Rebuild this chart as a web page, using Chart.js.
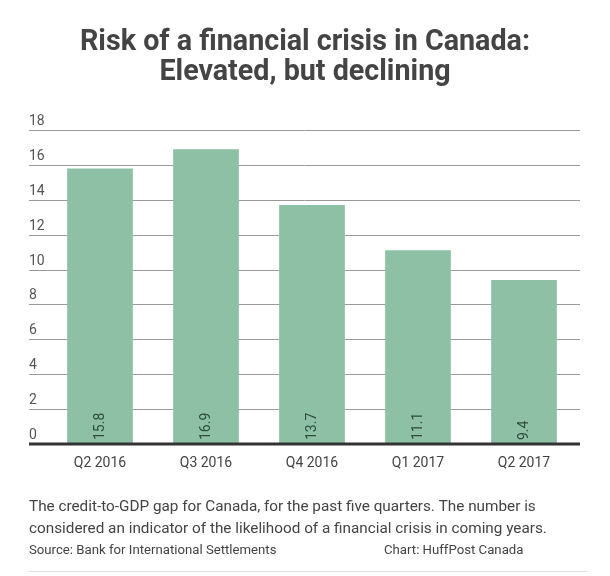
<!DOCTYPE html>
<html>
<head>
<meta charset="utf-8">
<script src="https://cdn.jsdelivr.net/npm/chart.js@4/dist/chart.umd.min.js"></script>
<style>
  html, body { margin: 0; padding: 0; background: #fff; }
  #wrap { width: 610px; height: 576px; }
</style>
</head>
<body>
<div id="wrap"><canvas id="chart"></canvas></div>
<script>
// data
const quarters = ['Q2 2016', 'Q3 2016', 'Q4 2016', 'Q1 2017', 'Q2 2017'];
const gapValues = [15.8, 16.9, 13.7, 11.1, 9.4];
const yTicks = [0, 2, 4, 6, 8, 10, 12, 14, 16, 18];

const titleLines = ['Risk of a financial crisis in Canada:', 'Elevated, but declining'];
const noteLines = [
    'The credit-to-GDP gap for Canada, for the past five quarters. The number is',
    'considered an indicator of the likelihood of a financial crisis in coming years.'
];
const sourceText = 'Source: Bank for International Settlements';
const creditText = 'Chart: HuffPost Canada';

const FONT = 'Roboto, "Noto Sans", sans-serif';

// gridlines + y labels sit above each line, starting left of the bars
const gridPlugin = {
    id: 'gridLabels',
    beforeDatasetsDraw(chart) {
        const ctx = chart.ctx;
        const y = chart.scales.y;
        ctx.save();
        ctx.font = '14px ' + FONT;
        ctx.fillStyle = '#555';
        ctx.textAlign = 'left';
        ctx.textBaseline = 'bottom';
        yTicks.forEach(v => {
            const py = Math.round(y.getPixelForValue(v)) + 0.5;
            if (v > 0) {
                ctx.strokeStyle = '#9a9a9a';
                ctx.lineWidth = 1;
                ctx.beginPath();
                ctx.moveTo(29, py);
                ctx.lineTo(580, py);
                ctx.stroke();
            }
            ctx.fillText(String(v), 29, py - 2);
        });
        ctx.restore();
    },
    afterDatasetsDraw(chart) {
        const ctx = chart.ctx;
        const y = chart.scales.y;
        const base = y.getPixelForValue(0);
        ctx.save();
        // value labels, rotated, at the foot of each bar
        ctx.font = '14px ' + FONT;
        ctx.fillStyle = '#2e4b3c';
        ctx.textAlign = 'left';
        ctx.textBaseline = 'middle';
        chart.getDatasetMeta(0).data.forEach((bar, i) => {
            ctx.save();
            ctx.translate(bar.x, base - 4);
            ctx.rotate(-Math.PI / 2);
            ctx.fillText(String(gapValues[i]), 0, 0);
            ctx.restore();
        });
        // dark baseline
        ctx.strokeStyle = '#333';
        ctx.lineWidth = 3;
        ctx.beginPath();
        ctx.moveTo(29, base);
        ctx.lineTo(580, base);
        ctx.stroke();
        ctx.restore();
    },
    afterDraw(chart) {
        const ctx = chart.ctx;
        ctx.save();
        ctx.fillStyle = '#444';
        ctx.textAlign = 'center';
        ctx.textBaseline = 'middle';
        ctx.font = 'bold 28.7px ' + FONT;
        ctx.fillText(titleLines[0], 305, 43);
        ctx.fillText(titleLines[1], 305, 73);

        ctx.textAlign = 'left';
        ctx.font = '15.3px ' + FONT;
        ctx.fillText(noteLines[0], 29, 507);
        ctx.fillText(noteLines[1], 29, 529);
        ctx.font = '13.2px ' + FONT;
        ctx.fillText(sourceText, 29, 551);
        ctx.fillText(creditText, 384, 551);

        ctx.strokeStyle = '#ddd';
        ctx.lineWidth = 1;
        ctx.beginPath();
        ctx.moveTo(29, 571.5);
        ctx.lineTo(587, 571.5);
        ctx.stroke();
        ctx.restore();
    }
};

new Chart(document.getElementById('chart'), {
    type: 'bar',
    data: {
        labels: quarters,
        datasets: [{
            data: gapValues,
            backgroundColor: '#8dc0a5',
            borderWidth: 0,
            barPercentage: 0.62,
            categoryPercentage: 1
        }]
    },
    options: {
        responsive: true,
        maintainAspectRatio: false,
        animation: false,
        layout: { padding: { left: 47, right: 33, top: 130, bottom: 102 } },
        scales: {
            x: {
                grid: { display: false, drawBorder: false },
                border: { display: false },
                ticks: { color: '#444', font: { family: FONT, size: 14 }, padding: 3 },
                afterFit(scale) { scale.height = 30; }
            },
            y: {
                display: false,
                min: 0,
                max: 18
            }
        },
        plugins: {
            legend: { display: false },
            tooltip: { enabled: false }
        }
    },
    plugins: [gridPlugin]
});
</script>
</body>
</html>
